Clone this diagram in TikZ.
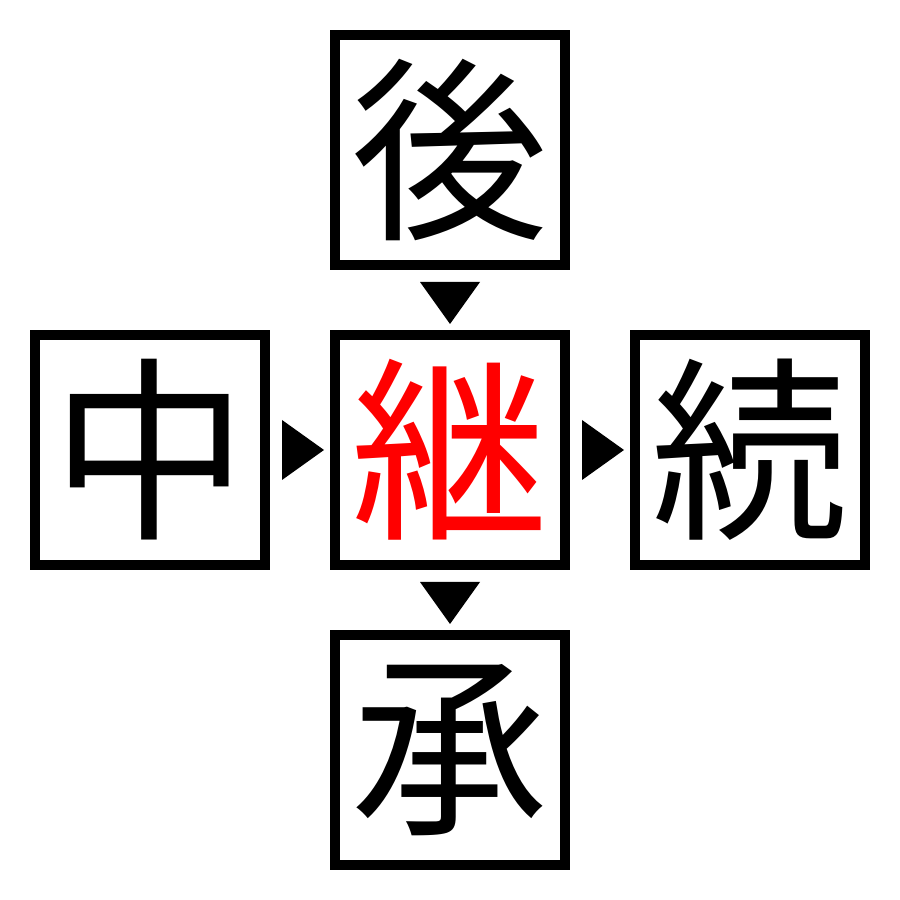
\documentclass[tikz,border=0pt]{standalone}
\usepackage{fontspec}
\newfontfamily\cjk{Noto Sans CJK JP}
\usetikzlibrary{positioning,calc}

\tikzset{
  kanji/.style={draw, line width=1mm, minimum size=2.3cm, inner sep=0pt, outer sep=0pt,
    font=\cjk\fontsize{56}{56}\selectfont},
  tip/.style={fill=black}
}

\begin{document}
\begin{tikzpicture}[node distance=0.7cm]
    \useasboundingbox (0,0) rectangle (9,9);
    \node[kanji, text=red] (tsugu) at (4.5,4.5) {継};
    \node[kanji, above=of tsugu] (ato) {後};
    \node[kanji, below=of tsugu] (uke) {承};
    \node[kanji, left=of tsugu] (naka) {中};
    \node[kanji, right=of tsugu] (zoku) {続};
    % arrowheads between boxes
    \fill[tip] ($(ato.south)+(-0.3,-0.17)$) -- ++(0.6,0) -- ($(tsugu.north)+(0,0.11)$) -- cycle;
    \fill[tip] ($(tsugu.south)+(-0.3,-0.17)$) -- ++(0.6,0) -- ($(uke.north)+(0,0.11)$) -- cycle;
    \fill[tip] ($(naka.east)+(0.17,0.3)$) -- ++(0,-0.6) -- ($(tsugu.west)+(-0.11,0)$) -- cycle;
    \fill[tip] ($(tsugu.east)+(0.17,0.3)$) -- ++(0,-0.6) -- ($(zoku.west)+(-0.11,0)$) -- cycle;
\end{tikzpicture}
\end{document}
